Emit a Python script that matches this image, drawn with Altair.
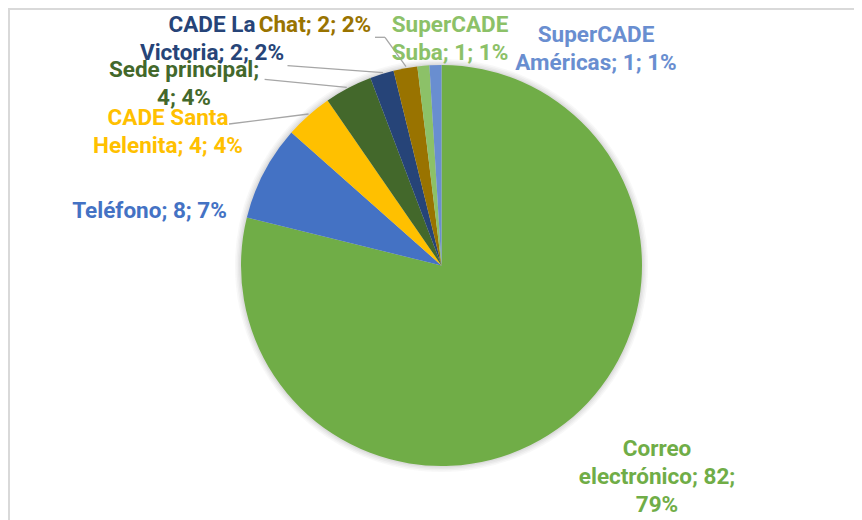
import altair as alt
import pandas as pd

# ---- data ----
categories = ["Correo electrónico", "Teléfono", "CADE Santa Helenita", "Sede principal",
              "CADE La Victoria", "Chat", "SuperCADE Suba", "SuperCADE Américas"]
values = [82, 8, 4, 4, 2, 2, 1, 1]
percents = [79, 7, 4, 4, 2, 2, 1, 1]
colors = ["#70AD47", "#4472C4", "#FFC000", "#43682B", "#264478", "#997300", "#8CC168", "#698ED0"]

# label text, broken into lines as in the reference
label_lines = [
    ["Correo", "electrónico; 82;", "79%"],
    ["Teléfono; 8; 7%"],
    ["CADE Santa", "Helenita; 4; 4%"],
    ["Sede principal;", "4; 4%"],
    ["CADE La", "Victoria; 2; 2%"],
    ["Chat; 2; 2%"],
    ["SuperCADE", "Suba; 1; 1%"],
    ["SuperCADE", "Américas; 1; 1%"],
]

# ---- layout (page pixels) ----
W, H = 846, 512
OFF = 8
CX, CY, R = 441.5 - OFF, 265.5 - OFF, 200.5
LINE_H = 28
label_anchor = [  # center x, first baseline
    (657, 456), (149.5, 218), (168, 125), (184, 77),
    (212, 31.7), (315, 31.7), (450, 31.7), (596, 41.7),
]
leaders = [  # polyline points
    [(287.5, 65.7), (383, 72.7)],
    [(264.6, 79.3), (346.8, 87.3)],
    [(229, 124), (308.6, 114)],
    [(375, 37.3), (385, 37.3), (406, 66.7)],
]

FONT = "Roboto"
FS = 22.5

pie_df = pd.DataFrame({"cat": categories, "value": values, "idx": list(range(len(values)))})

rows = []
for i, lines in enumerate(label_lines):
    cx, by = label_anchor[i]
    for j, t in enumerate(lines):
        rows.append({"t": t, "x": cx - OFF, "y": by - OFF + j * LINE_H, "cat": categories[i]})
lab_df = pd.DataFrame(rows)

seg_rows = []
for k, pts in enumerate(leaders):
    for a, b in zip(pts[:-1], pts[1:]):
        seg_rows.append({"x": a[0] - OFF, "y": a[1] - OFF, "x2": b[0] - OFF, "y2": b[1] - OFF})
seg_df = pd.DataFrame(seg_rows)

color_scale = alt.Scale(domain=categories, range=colors)

# shadow rings
shadow_layers = []
for rr, op in [(206.5, 0.05), (205, 0.06), (203.5, 0.08), (202, 0.1)]:
    shadow_layers.append(
        alt.Chart(pd.DataFrame({"a": [0]})).mark_arc(
            theta=0, theta2=6.2832, outerRadius=rr, color="#7f7f7f", opacity=op
        ).encode(x=alt.value(CX), y=alt.value(CY))
    )

pie = alt.Chart(pie_df).mark_arc(outerRadius=R).encode(
    theta=alt.Theta("value:Q", stack=True),
    order=alt.Order("idx:Q"),
    color=alt.Color("cat:N", scale=color_scale, legend=None),
    x=alt.value(CX),
    y=alt.value(CY),
)

lines_layer = alt.Chart(seg_df).mark_rule(color="#A6A6A6", strokeWidth=1.3).encode(
    x=alt.X("x:Q", scale=None), y=alt.Y("y:Q", scale=None),
    x2="x2:Q", y2="y2:Q",
)

text_layer = alt.Chart(lab_df).mark_text(
    font=FONT, fontSize=FS, fontWeight="bold", align="center", baseline="alphabetic"
).encode(
    x=alt.X("x:Q", scale=None), y=alt.Y("y:Q", scale=None),
    text="t:N",
    color=alt.Color("cat:N", scale=color_scale, legend=None),
)

border_left = alt.Chart(pd.DataFrame({"a": [0]})).mark_rule(color="#D9D9D9", strokeWidth=2).encode(
    x=alt.value(1), y=alt.value(0), y2=alt.value(H)
)
border_top = alt.Chart(pd.DataFrame({"a": [0]})).mark_rule(color="#D9D9D9", strokeWidth=2).encode(
    x=alt.value(0), x2=alt.value(W), y=alt.value(1)
)

chart = alt.layer(
    border_left, border_top, *shadow_layers, pie, lines_layer, text_layer
).properties(
    width=W, height=H, padding=0, autosize=alt.AutoSizeParams(type="none")
).configure_view(stroke=None).resolve_scale(color="shared")

chart.save("out.html", embed_options={"renderer": "svg", "actions": False})
